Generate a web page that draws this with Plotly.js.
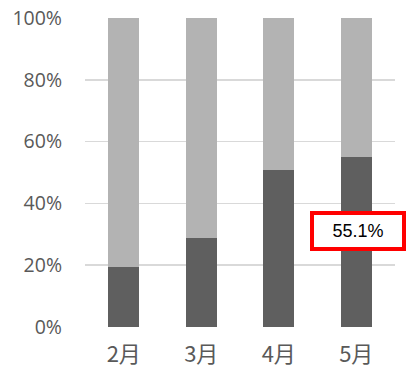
<!DOCTYPE html>
<html>
<head>
<meta charset="utf-8">
<script src="https://cdn.plot.ly/plotly-3.0.1.min.js"></script>
<style>html,body{margin:0;padding:0;background:#fff;overflow:hidden;}#chart{width:406px;height:369px;}</style>
</head>
<body>
<div id="chart"></div>
<script>
var months = ['2月', '3月', '4月', '5月'];
var darkShare = [0.194, 0.288, 0.508, 0.551];
var lightShare = [0.806, 0.712, 0.492, 0.449];
var yTickVals = [0, 0.2, 0.4, 0.6, 0.8, 1.0];
var yTickText = ['0%', '20%', '40%', '60%', '80%', '100%'];
var calloutLabel = '55.1%';
var calloutMonth = '5月';
var calloutY = 0.31;

var font = '"Noto Sans CJK JP", "Open Sans", sans-serif';

var data = [
  {type: 'bar', x: months, y: darkShare, marker: {color: '#5f5f5f'}, hoverinfo: 'skip'},
  {type: 'bar', x: months, y: lightShare, marker: {color: '#b3b3b3'}, hoverinfo: 'skip'}
];

var layout = {
  width: 406, height: 369,
  margin: {l: 85, r: 11, t: 18, b: 42, pad: 0, autoexpand: false},
  barmode: 'stack',
  bargap: 0.6,
  showlegend: false,
  paper_bgcolor: '#ffffff',
  plot_bgcolor: '#ffffff',
  font: {family: font, color: '#595959'},
  xaxis: {
    type: 'category',
    range: [-0.5, months.length - 0.5],
    autorange: false,
    automargin: false,
    showgrid: false, zeroline: false, showline: false,
    ticks: '',
    tickfont: {family: font, size: 22, color: '#595959'},
    ticklabelstandoff: 12
  },
  yaxis: {
    range: [0, 1],
    autorange: false,
    automargin: false,
    tickvals: yTickVals, ticktext: yTickText,
    showgrid: true, gridcolor: '#d9d9d9', gridwidth: 1.5,
    zeroline: false, showline: false, ticks: '',
    tickfont: {family: '"Open Sans", sans-serif', size: 19.5, color: '#595959'},
    ticklabelstandoff: 22
  },
  annotations: [{
    x: calloutMonth, y: calloutY, xref: 'x', yref: 'y',
    text: calloutLabel, showarrow: false,
    xshift: 2,
    font: {family: '"Liberation Sans", "Open Sans", sans-serif', size: 18, color: '#000000'},
    bgcolor: '#ffffff', bordercolor: '#ff0000', borderwidth: 4, borderpad: 2,
    width: 84, height: 28, align: 'center', valign: 'middle'
  }]
};

Plotly.newPlot('chart', data, layout, {staticPlot: true, displayModeBar: false});
</script>
</body>
</html>
